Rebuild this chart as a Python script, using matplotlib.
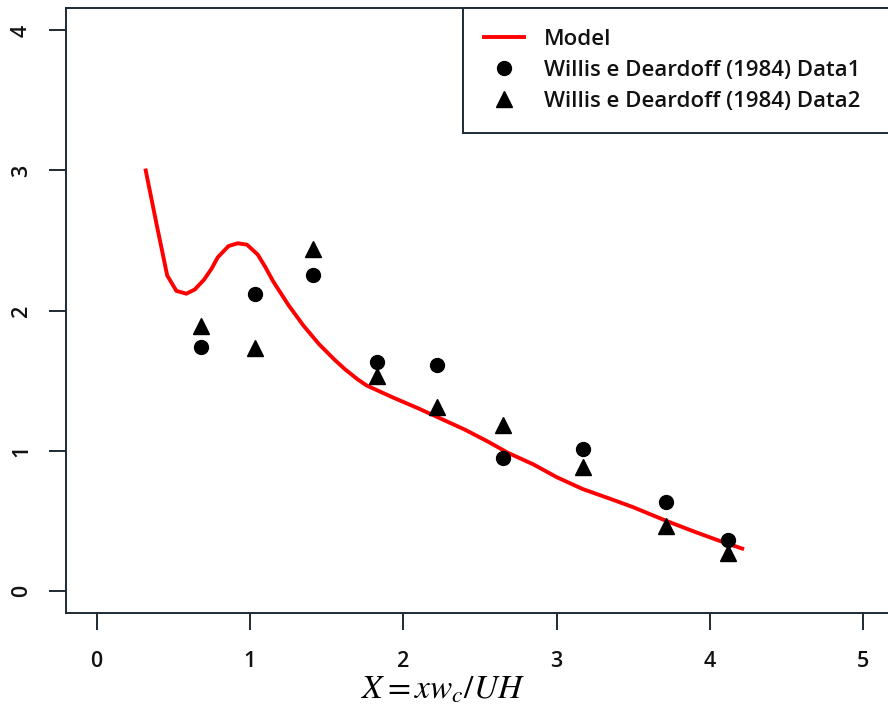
import numpy as np
import matplotlib.pyplot as plt

# model curve
model_x = [0.32, 0.39, 0.46, 0.52, 0.585, 0.64, 0.70, 0.75, 0.79, 0.86, 0.92, 0.98, 1.05,
           1.10, 1.15, 1.25, 1.35, 1.45, 1.55, 1.62, 1.70, 1.76, 1.85, 1.93, 2.10, 2.24,
           2.40, 2.55, 2.68, 2.85, 3.00, 3.17, 3.35, 3.50, 3.71, 3.90, 4.05, 4.21]
model_y = [3.00, 2.62, 2.25, 2.14, 2.12, 2.15, 2.22, 2.30, 2.38, 2.46, 2.48, 2.47, 2.40,
           2.31, 2.21, 2.04, 1.89, 1.76, 1.65, 1.58, 1.51, 1.465, 1.42, 1.38, 1.30, 1.23,
           1.15, 1.065, 0.985, 0.90, 0.81, 0.725, 0.655, 0.595, 0.50, 0.42, 0.36, 0.30]

# Willis e Deardoff (1984)
data1_x = [0.68, 1.03, 1.41, 1.83, 2.22, 2.65, 3.17, 3.71, 4.12]
data1_y = [1.74, 2.12, 2.25, 1.63, 1.61, 0.95, 1.01, 0.635, 0.36]
data2_x = [0.68, 1.03, 1.41, 1.83, 2.22, 2.65, 3.17, 3.71, 4.12]
data2_y = [1.89, 1.73, 2.44, 1.53, 1.31, 1.18, 0.885, 0.46, 0.265]

x_ticks = [0, 1, 2, 3, 4, 5]
y_ticks = [0, 1, 2, 3, 4]

plt.rcParams['font.family'] = ['Open Sans', 'DejaVu Sans']
plt.rcParams['mathtext.fontset'] = 'stix'

fig = plt.figure(figsize=(8.88, 7.14), dpi=100)
# axes box runs past the right edge of the picture
ax = fig.add_axes([66 / 888, (714 - 613) / 714, (894 - 66) / 888, (613 - 8) / 714])

ax.plot(model_x, model_y, color='red', lw=2.8, label='Model')
ax.plot(data1_x, data1_y, 'o', color='black', ms=10,
        label='Willis e Deardoff (1984) Data1')
ax.plot(data2_x, data2_y, '^', color='black', ms=12,
        label='Willis e Deardoff (1984) Data2')

ax.set_xlim(-0.2, 5.2)
ax.set_ylim(-0.16, 4.16)
ax.set_xticks(x_ticks)
ax.set_yticks(y_ticks)

dark = '#1f2a33'
for sp in ax.spines.values():
    sp.set_linewidth(1.4)
    sp.set_color(dark)
ax.tick_params(length=12.5, width=1.4, color=dark, labelsize=15.5, labelcolor='#111')
ax.tick_params(axis='x', pad=15)
ax.tick_params(axis='y', pad=12, labelrotation=90)
for lab in ax.get_xticklabels() + ax.get_yticklabels():
    lab.set_fontweight('semibold')
for lab in ax.get_yticklabels():
    lab.set_va('center')

ax.set_xlabel(r'$X = xw_c/UH$', fontsize=24, fontweight='normal')
ax.xaxis.set_label_coords(0.455, -0.1)

leg = ax.legend(loc='upper left', bbox_to_anchor=(0.4795, 0, 0.5205, 1),
                mode='expand', borderaxespad=0, fontsize=16, fancybox=False,
                framealpha=1, edgecolor=dark, borderpad=0.95, labelspacing=0.45,
                handlelength=1.8, handletextpad=0.9)
leg.get_frame().set_linewidth(1.4)
for t in leg.get_texts():
    t.set_color('#111')
    t.set_fontweight('semibold')

fig.savefig('out.png', dpi=100)
